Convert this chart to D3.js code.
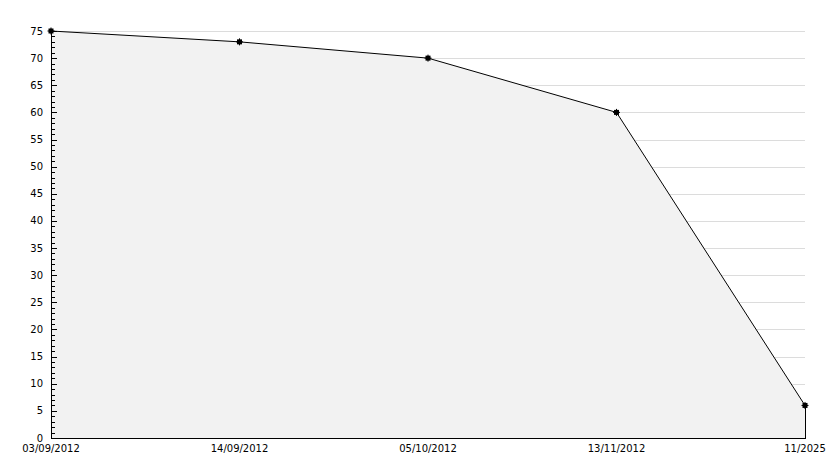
<!DOCTYPE html>
<html><head><meta charset="utf-8">
<script src="https://cdn.jsdelivr.net/npm/d3@7"></script>
<style>body{margin:0;background:#fff}svg{display:block}text{font-family:"DejaVu Sans",Verdana,sans-serif;font-size:10px;fill:#000}</style>
</head><body><svg id="c" width="834" height="468"></svg>
<script>
const categories = ["03/09/2012","14/09/2012","05/10/2012","13/11/2012","11/2025"];
const values = [75, 73, 70, 60, 6];
const yMajorTicks = [0,5,10,15,20,25,30,35,40,45,50,55,60,65,70,75];

(function(){
const mLeft=51, mRight=805, mTop=31, mBottom=438;
const svg=d3.select("#c");
const x=d3.scalePoint().domain(categories).range([mLeft,mRight]);
const y=d3.scaleLinear().domain([0,75]).range([mBottom,mTop]);

// gridlines
svg.append("g").selectAll("line").data(yMajorTicks.filter(d=>d>0)).join("line")
  .attr("x1",mLeft).attr("x2",mRight).attr("y1",d=>Math.round(y(d))+0.5).attr("y2",d=>Math.round(y(d))+0.5)
  .attr("stroke","#dcdcdc").attr("stroke-width",1);

// area
const data=categories.map((c,i)=>({c,v:values[i]}));
const area=d3.area().x(d=>x(d.c)).y0(y(0)).y1(d=>y(d.v));
svg.append("path").datum(data).attr("d",area).attr("fill","#f2f2f2").attr("stroke","none");
const line=d3.line().x(d=>x(d.c)).y(d=>y(d.v));
svg.append("path").datum(data).attr("d",line).attr("fill","none").attr("stroke","#000").attr("stroke-width",1);
// right edge of area
const lastX=x(categories[categories.length-1]);
svg.append("line").attr("x1",lastX+0.5).attr("x2",lastX+0.5)
  .attr("y1",y(values[values.length-1])).attr("y2",y(0)).attr("stroke","#000");

// y axis
const yAxisG=svg.append("g");
yAxisG.append("line").attr("x1",mLeft+0.5).attr("x2",mLeft+0.5).attr("y1",mTop-1).attr("y2",mBottom+1).attr("stroke","#000");
const minor=d3.range(0,76,1);
yAxisG.selectAll("line.t").data(minor).join("line").attr("class","t")
  .attr("x1",mLeft).attr("x2",d=>d%5===0?mLeft+6:mLeft+4)
  .attr("y1",d=>Math.round(y(d))+0.5).attr("y2",d=>Math.round(y(d))+0.5).attr("stroke","#000");
yAxisG.selectAll("text").data(yMajorTicks).join("text")
  .attr("x",mLeft-8).attr("y",d=>y(d)).attr("dy","0.35em").attr("text-anchor","end").text(d=>d);

// x axis
svg.append("line").attr("x1",mLeft).attr("x2",mRight+1).attr("y1",mBottom+0.5).attr("y2",mBottom+0.5).attr("stroke","#000");
svg.append("g").selectAll("text").data(categories).join("text")
  .attr("x",d=>x(d)).attr("y",mBottom+14).attr("text-anchor","middle").text(d=>d);

// markers
const mg=svg.append("g").selectAll("g").data(data).join("g")
  .attr("transform",d=>`translate(${x(d.c)},${y(d.v)})`);
mg.append("rect").attr("x",-2.5).attr("y",-2.5).attr("width",5).attr("height",5).attr("fill","#000");
mg.append("path").attr("d","M-3.5,0H3.5M0,-3.5V3.5").attr("stroke","#000").attr("stroke-width",1);
})();
</script></body></html>
